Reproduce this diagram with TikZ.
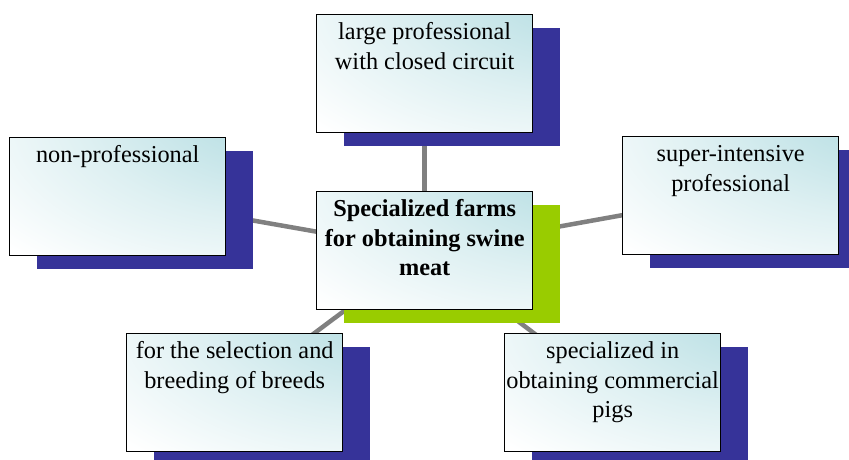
\documentclass[tikz,border=0pt]{standalone}
\usepackage{fontspec}
\setmainfont{Liberation Serif}
\usetikzlibrary{shadows,backgrounds}
\definecolor{boxcyan}{RGB}{178,220,225}
\definecolor{boxcyanlight}{RGB}{222,240,242}
\definecolor{shadowblue}{RGB}{54,51,153}
\definecolor{shadowgreen}{RGB}{153,204,0}
\definecolor{linkgray}{RGB}{128,128,128}
\pgfdeclareradialshading{boxshade}{\pgfpoint{50bp}{50bp}}{color(0bp)=(boxcyan); color(15bp)=(boxcyan); color(45bp)=(boxcyanlight); color(72bp)=(white); color(160bp)=(white)}
\newcommand{\boxtxt}[1]{\parbox[t][118pt][t]{216pt}{\centering\rule{0pt}{25pt}#1}}
\begin{document}
\begin{tikzpicture}[x=1pt,y=-1pt,
  box/.style={draw=black, line width=1.4pt, shading=boxshade, inner sep=0pt,
    anchor=north west, font=\fontsize{24.3}{29.5}\selectfont},
  navyshadow/.style={drop shadow={shadow xshift=27pt, shadow yshift=-13pt,
    fill=shadowblue, opacity=1}},
  greenshadow/.style={drop shadow={shadow xshift=27pt, shadow yshift=-13pt,
    fill=shadowgreen, opacity=1}},
  link/.style={draw=linkgray, line width=4.5pt}]
\clip (0,0) rectangle (849,459);
\node[box, navyshadow] (top) at (316,14) {\boxtxt{large professional\\with closed circuit}};
\node[box, navyshadow] (left) at (9,137) {\boxtxt{non-professional}};
\node[box, navyshadow] (right) at (622,136) {\boxtxt{super-intensive\\professional}};
\node[box, navyshadow] (bl) at (126,333) {\boxtxt{for the selection and\\breeding of breeds}};
\node[box, navyshadow] (br) at (504,333) {\boxtxt{specialized in\\obtaining commercial\\pigs}};
\node[box, greenshadow] (hub) at (316,191) {\boxtxt{\bfseries Specialized farms\\for obtaining swine\\meat}};
\begin{scope}[on background layer]
\draw[link] (hub.center) -- (top.center);
\draw[link] (hub.center) -- (left.center);
\draw[link] (hub.center) -- (right.center);
\draw[link] (hub.center) -- (bl.center);
\draw[link] (hub.center) -- (br.center);
\end{scope}
\end{tikzpicture}
\end{document}
